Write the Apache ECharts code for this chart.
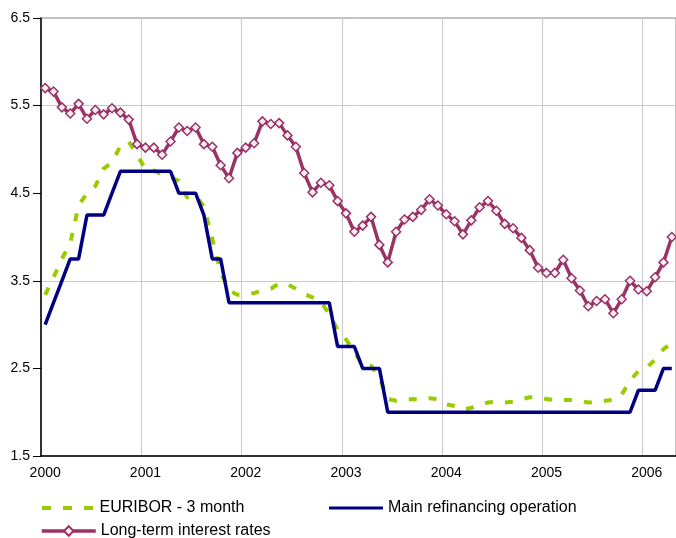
<!DOCTYPE html>
<html>
<head>
<meta charset="utf-8">
<script src="https://cdn.jsdelivr.net/npm/echarts@6/dist/echarts.min.js"></script>
<style>
  html, body { margin: 0; padding: 0; background: #fff; }
  #chart { width: 676px; height: 538px; }
</style>
</head>
<body>
<div id="chart"></div>
<script>
// monthly, Jan 2000 .. Apr 2006
var years = ['2000', '2001', '2002', '2003', '2004', '2005', '2006'];
var months = [];
for (var i = 0; i < 76; i++) {
  months.push(years[Math.floor(i / 12)] + '-' + (i % 12 + 1));
}

var euribor = [
  3.34, 3.54, 3.75, 3.93, 4.36, 4.50, 4.58, 4.78, 4.85, 5.04, 5.09, 4.94,
  4.77, 4.76, 4.71, 4.68, 4.64, 4.45, 4.47, 4.35, 3.98, 3.60, 3.39, 3.34,
  3.34, 3.36, 3.39, 3.41, 3.47, 3.46, 3.41, 3.35, 3.31, 3.26, 3.12, 2.94,
  2.83, 2.69, 2.53, 2.53, 2.40, 2.15, 2.13, 2.14, 2.15, 2.14, 2.16, 2.15,
  2.09, 2.07, 2.03, 2.05, 2.09, 2.11, 2.12, 2.11, 2.12, 2.15, 2.17, 2.17,
  2.15, 2.14, 2.14, 2.14, 2.13, 2.11, 2.12, 2.13, 2.14, 2.20, 2.36, 2.47,
  2.51, 2.60, 2.72, 2.79
];

var mainRefi = [
  3.00, 3.25, 3.50, 3.75, 3.75, 4.25, 4.25, 4.25, 4.50, 4.75, 4.75, 4.75,
  4.75, 4.75, 4.75, 4.75, 4.50, 4.50, 4.50, 4.25, 3.75, 3.75, 3.25, 3.25,
  3.25, 3.25, 3.25, 3.25, 3.25, 3.25, 3.25, 3.25, 3.25, 3.25, 3.25, 2.75,
  2.75, 2.75, 2.50, 2.50, 2.50, 2.00, 2.00, 2.00, 2.00, 2.00, 2.00, 2.00,
  2.00, 2.00, 2.00, 2.00, 2.00, 2.00, 2.00, 2.00, 2.00, 2.00, 2.00, 2.00,
  2.00, 2.00, 2.00, 2.00, 2.00, 2.00, 2.00, 2.00, 2.00, 2.00, 2.00, 2.25,
  2.25, 2.25, 2.50, 2.50
];

var longTerm = [
  5.70, 5.66, 5.48, 5.41, 5.52, 5.35, 5.45, 5.40, 5.47, 5.42, 5.34, 5.06,
  5.02, 5.02, 4.94, 5.09, 5.25, 5.21, 5.25, 5.06, 5.03, 4.82, 4.67, 4.96,
  5.02, 5.07, 5.32, 5.29, 5.30, 5.16, 5.03, 4.73, 4.51, 4.62, 4.59, 4.41,
  4.27, 4.06, 4.13, 4.23, 3.91, 3.71, 4.06, 4.20, 4.23, 4.31, 4.43, 4.36,
  4.26, 4.18, 4.03, 4.19, 4.34, 4.41, 4.30, 4.15, 4.10, 3.99, 3.85, 3.65,
  3.59, 3.59, 3.74, 3.53, 3.39, 3.21, 3.27, 3.29, 3.13, 3.29, 3.50, 3.40,
  3.38, 3.54, 3.71, 4.00
];

var yTicks = [1.5, 2.5, 3.5, 4.5, 5.5, 6.5];

var font = 'Liberation Sans, Arial, sans-serif';
var myChart = echarts.init(document.getElementById('chart'));

function legendAt(left, top, name, icon, h) {
  var lg = {
    left: left,
    top: top,
    padding: 0,
    itemWidth: 54,
    itemHeight: h,
    selectedMode: false,
    textStyle: { fontFamily: font, fontSize: 16, color: '#000' },
    data: [name]
  };
  if (icon) lg.icon = icon;
  else lg.lineStyle = { width: 3.5 };
  return lg;
}

var option = {
  animation: false,
  backgroundColor: '#fff',
  grid: {
    left: 41, right: 0, top: 18, bottom: 82,
    show: true, borderColor: '#888', borderWidth: 1
  },
  legend: [
    legendAt(42, 500, 'EURIBOR - 3 month', 'path://M0,0h9v4h-9zM21,0h9v4h-9zM42,0h9v4h-9z', 4),
    legendAt(329, 500, 'Main refinancing operation', 'rect', 3),
    legendAt(40, 523, 'Long-term interest rates', null, 12)
  ],
  xAxis: {
    type: 'category',
    data: months,
    boundaryGap: true,
    axisLine: { lineStyle: { color: '#000', width: 1.5 } },
    axisTick: { interval: 11, length: 5, lineStyle: { color: '#000' } },
    axisLabel: {
      interval: 11,
      margin: 10,
      fontFamily: font, fontSize: 14, color: '#000',
      formatter: function (v) { return v.split('-')[0]; }
    },
    splitLine: { show: true, interval: 11, lineStyle: { color: '#c8c8c8', width: 1 } }
  },
  yAxis: {
    type: 'value',
    min: 1.5,
    max: 6.5,
    interval: 0.5,
    axisLine: { show: true, lineStyle: { color: '#000', width: 1.5 } },
    axisTick: { show: true, length: 8, customValues: yTicks, lineStyle: { color: '#000' } },
    axisLabel: {
      customValues: yTicks,
      margin: 11,
      fontFamily: font, fontSize: 14, color: '#000',
      formatter: function (v) { return v.toFixed(1); }
    },
    // every other line hidden so grid shows only at 1.5, 2.5, ...
    splitLine: { show: true, lineStyle: { color: ['#c8c8c8', 'rgba(0,0,0,0)'], width: 1 } }
  },
  series: [
    {
      name: 'EURIBOR - 3 month',
      type: 'line',
      data: euribor,
      symbol: 'none',
      lineStyle: { color: '#99cc00', width: 4, type: [8, 12] },
      itemStyle: { color: '#99cc00' }
    },
    {
      name: 'Main refinancing operation',
      type: 'line',
      data: mainRefi,
      symbol: 'none',
      lineStyle: { color: '#000080', width: 3.5 },
      itemStyle: { color: '#000080' }
    },
    {
      name: 'Long-term interest rates',
      type: 'line',
      data: longTerm,
      symbol: 'diamond',
      symbolSize: 9,
      showAllSymbol: true,
      lineStyle: { color: '#993366', width: 3.5 },
      itemStyle: { color: '#fbeef4', borderColor: '#993366', borderWidth: 1.5 }
    }
  ]
};

myChart.setOption(option);
</script>
</body>
</html>
